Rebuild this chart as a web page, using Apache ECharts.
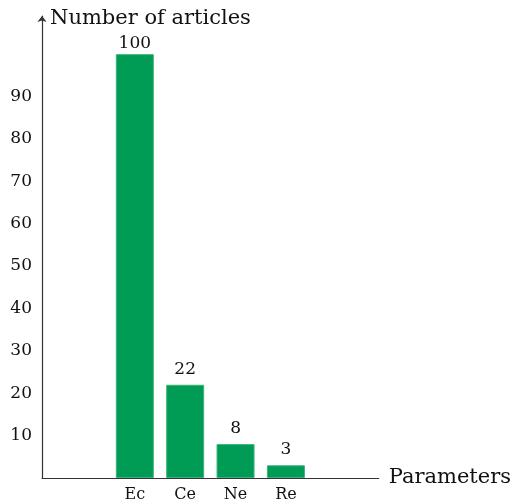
<!DOCTYPE html>
<html><head><meta charset="utf-8">
<script src="https://cdn.jsdelivr.net/npm/echarts@6/dist/echarts.min.js"></script>
<style>html,body{margin:0;padding:0;background:#fff}#c{width:514px;height:503px}</style>
</head><body><div id="c"></div>
<script>
const categories = ['Ec', 'Ce', 'Ne', 'Re'];
const articleCounts = [100, 22, 8, 3];
const yTickLabels = [10, 20, 30, 40, 50, 60, 70, 80, 90];

const FONT = 'DejaVu Serif';
const chart = echarts.init(document.getElementById('c'), null, {renderer: 'canvas'});
chart.setOption({
  animation: false,
  grid: {left: 42, right: 131, top: 16, bottom: 24, containLabel: false},
  xAxis: {
    type: 'value', min: -1.843, max: 4.843, interval: 1,
    splitLine: {show: false},
    axisTick: {show: false},
    axisLine: {show: true, onZero: false, lineStyle: {color: '#333', width: 1.2}},
    axisLabel: {
      margin: 9, fontFamily: FONT, fontSize: 16, color: '#111',
      customValues: [0, 1, 2, 3],
      formatter: v => categories[Math.round(v)] || ''
    },
    name: 'Parameters', nameLocation: 'end', nameGap: 10,
    nameTextStyle: {fontFamily: FONT, fontSize: 21, color: '#111', verticalAlign: 'middle'}
  },
  yAxis: {
    type: 'value', min: 0, max: 109, interval: 10,
    splitLine: {show: false},
    axisTick: {show: false},
    axisLine: {show: true, onZero: false, symbol: ['none', 'arrow'], symbolSize: [7, 6], lineStyle: {color: '#333', width: 1.2}},
    axisLabel: {
      margin: 10, fontFamily: FONT, fontSize: 17, color: '#111',
      formatter: v => yTickLabels.includes(v) ? String(v) : ''
    },
    name: 'Number of articles', nameLocation: 'end', nameGap: -3,
    nameTextStyle: {fontFamily: FONT, fontSize: 21, color: '#111', align: 'left', verticalAlign: 'middle', padding: [0, 0, 0, 8]}
  },
  series: [{
    type: 'bar',
    data: articleCounts.map((v, i) => (i === 0 ? {value: [i, v], label: {distance: 2}} : [i, v])),
    barWidth: 38,
    itemStyle: {color: '#009B55', borderColor: '#3DB27C', borderWidth: 1},
    label: {show: true, position: 'top', distance: 7, fontFamily: FONT, fontSize: 17, color: '#111'}
  }]
});
</script></body></html>
